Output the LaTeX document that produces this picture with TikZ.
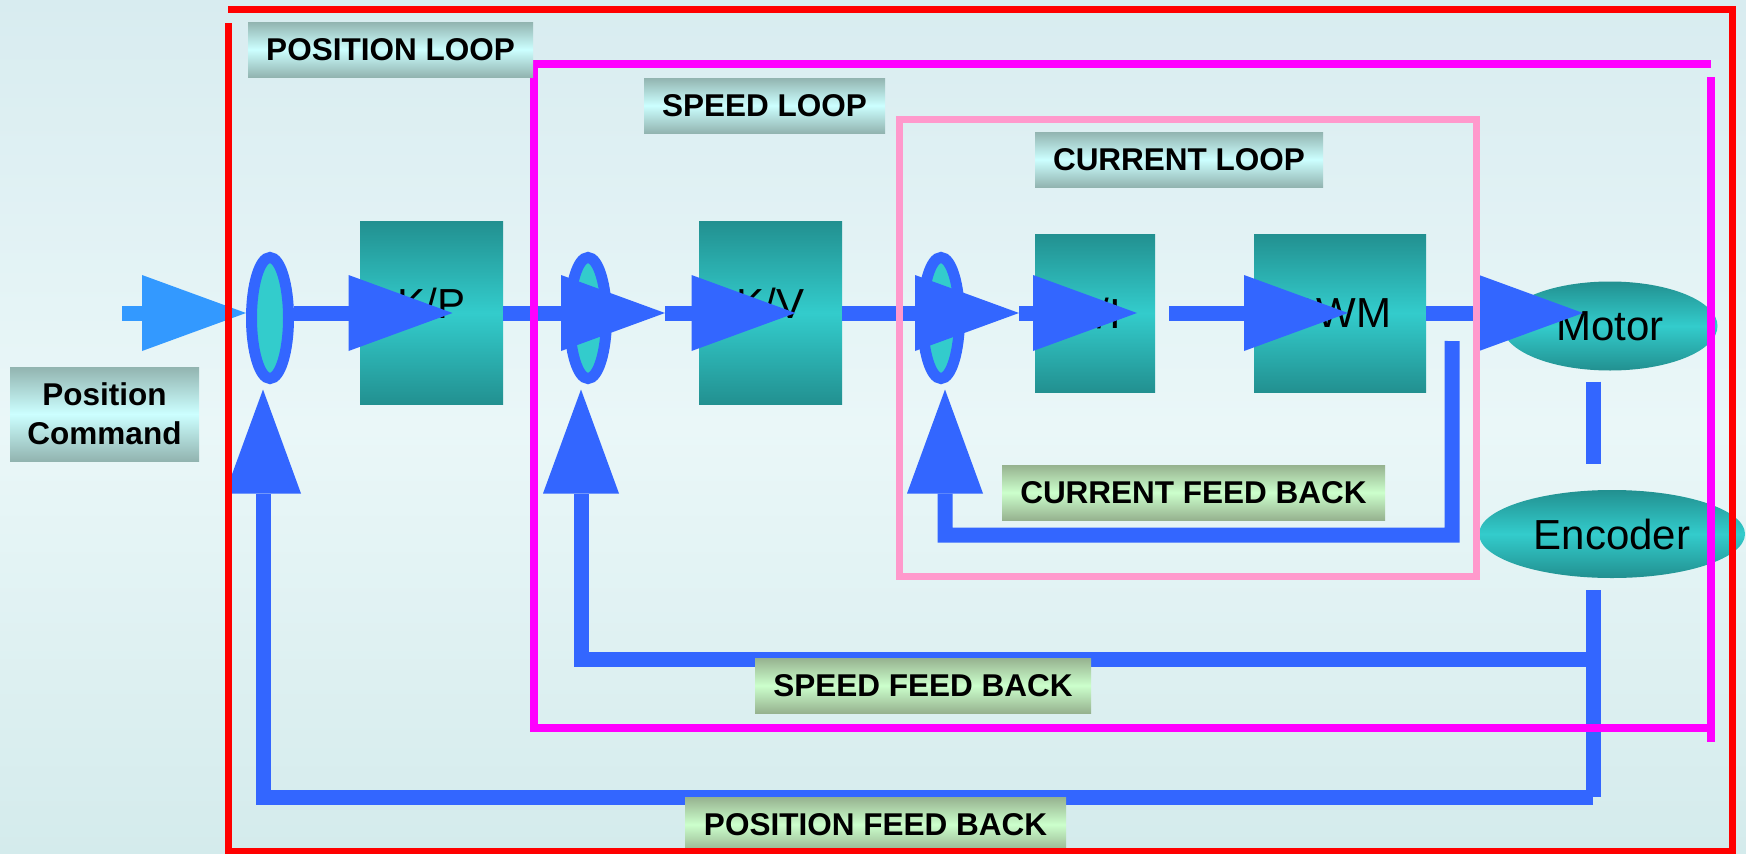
\documentclass[tikz,border=0pt]{standalone}
\usepackage{fontspec}
\setmainfont{Liberation Sans}
\usetikzlibrary{arrows.meta,shapes.geometric,calc}

\definecolor{sigblue}{RGB}{51,102,255}
\definecolor{inblue}{RGB}{51,153,255}
\definecolor{tealdark}{RGB}{34,144,144}
\definecolor{tealmid}{RGB}{51,204,204}
\definecolor{labgray}{RGB}{146,180,176}
\definecolor{labcyan}{RGB}{204,255,255}
\definecolor{fbgreen}{RGB}{150,178,143}
\definecolor{fblight}{RGB}{204,255,204}
\definecolor{loopred}{RGB}{255,0,0}
\definecolor{loopmag}{RGB}{255,0,255}
\definecolor{looppink}{RGB}{255,153,204}
\definecolor{bgtop}{RGB}{216,236,240}
\definecolor{bgmid}{RGB}{234,247,248}
\definecolor{bgbot}{RGB}{212,235,236}

\tikzset{
  block/.style={rectangle, inner sep=0pt, top color=tealdark, bottom color=tealdark,
    middle color=tealmid, font=\fontsize{42}{50}\selectfont},
  unit/.style={ellipse, inner sep=0pt, top color=tealdark, bottom color=tealdark,
    middle color=tealmid, font=\fontsize{42}{50}\selectfont},
  sumpt/.style={ellipse, inner sep=0pt, draw=sigblue, line width=11pt, fill=tealmid,
    minimum width=37pt, minimum height=121pt},
  looplabel/.style={rectangle, inner sep=0pt, top color=labgray, bottom color=labgray,
    middle color=labcyan, font=\fontsize{31.5}{39}\selectfont\bfseries},
  fblabel/.style={rectangle, inner sep=0pt, top color=fbgreen, bottom color=fbgreen,
    middle color=fblight, font=\fontsize{31.5}{39}\selectfont\bfseries},
  bighead/.tip={Triangle[length=104pt,width=76pt,line width=0pt]},
  sig/.style={draw=sigblue, line width=15pt, -bighead},
  fb/.style={draw=sigblue, line width=15pt},
  fbarrow/.style={fb, -bighead},
  loopframe/.style={line width=7pt}
}

\begin{document}
\begin{tikzpicture}[x=1pt,y=-1pt]
\useasboundingbox (0,0) rectangle (1746,854);
\shade[top color=bgtop, bottom color=bgbot, middle color=bgmid] (0,0) rectangle (1746,854);

% forward path blocks
\node[block, minimum width=143pt, minimum height=183pt, text depth=20pt] (kp) at (431.5,313) {K/P};
\node[block, minimum width=143pt, minimum height=183pt, text depth=20pt] (kv) at (770.5,313) {K/V};
\node[block, minimum width=120pt, minimum height=158pt] (ki) at (1095,313) {K/I};
\node[block, minimum width=172pt, minimum height=158pt] (pwm) at (1340,313) {PWM};
\node[unit, minimum width=215pt, minimum height=89pt] (motor) at (1610,326) {Motor};
\node[unit, minimum width=266pt, minimum height=88pt] (encoder) at (1612,534) {Encoder};

% summing points
\node[sumpt] (s1) at (270,318) {};
\node[sumpt] (s2) at (588,318) {};
\node[sumpt] (s3) at (941,318) {};

\coordinate (cmdin) at (122,313);
\coordinate (j2) at ($(s2.center |- kp)+(77,0)$);
\coordinate (j3) at ($(s3.center |- kp)+(78,0)$);
\coordinate (spdtap) at (1593,659);
\coordinate (postap) at (1593,797);
\coordinate (curtap) at (1452,535);

% forward signal
\draw[sig, draw=inblue] (cmdin) -- (cmdin -| s1.west);
\draw[sig] (s1.east |- kp) -- ($(kp)+(21,0)$);
\draw[sig] (kp.east) -- (j2);
\draw[sig] (j2) -- ($(kv)+(25,0)$);
\draw[sig] (kv.east) -- (j3);
\draw[sig] (j3) -- ($(ki)+(42,0)$);
\draw[sig] ($(ki.east)+(14,0)$) -- ($(pwm)+(8,0)$);
\draw[sig] (pwm.east) -- ($(motor.center |- pwm)+(-27,0)$);

% feedback paths
\draw[fb] ($(motor.south)+(-17,11)$) -- ($(encoder.north)+(-19,-26)$);
\draw[fb] ($(encoder.south)+(-19,12)$) -- (postap);
\draw[fbarrow] (pwm.east) ++(26,28) -- (curtap) -| ($(s3.south)+(4,5.5)$);
\draw[fbarrow] (spdtap) -| ($(s2.south)+(-7,5.5)$);
\draw[fbarrow] (postap) -| ($(s1.south)+(-7,5.5)$);

% labels
\node[looplabel, align=center, minimum width=189pt, minimum height=94pt] (cmd) at (104.5,414) {Position\\Command};
\node[fblabel, minimum width=383pt, minimum height=55pt] (curfb) at (1193.5,492.5) {CURRENT FEED BACK};
\node[fblabel, minimum width=336pt, minimum height=55pt] (spdfb) at (923,685.5) {SPEED FEED BACK};
\node[fblabel, minimum width=381pt, minimum height=55pt] (posfb) at (875.5,824.5) {POSITION FEED BACK};

% loop frames
\draw[loopframe, loopred] (228,23) -- (228,851) -- (1732,851) -- (1732,9) -- (228,9);
\draw[loopframe, loopmag, line width=8pt] (1711,77) -- (1711,742);
\draw[loopframe, loopmag, line width=8pt] (1711,728) -- (534,728) -- (534,64) -- (1711,64);
\draw[loopframe, looppink] (899,119) rectangle (1476,576);

\node[looplabel, minimum width=285pt, minimum height=55pt] (posloop) at (390.5,49.5) {POSITION LOOP};
\node[looplabel, minimum width=241pt, minimum height=55pt] (spdloop) at (764.5,105.5) {SPEED LOOP};
\node[looplabel, minimum width=288pt, minimum height=55pt] (curloop) at (1179,159.5) {CURRENT LOOP};
\end{tikzpicture}
\end{document}
